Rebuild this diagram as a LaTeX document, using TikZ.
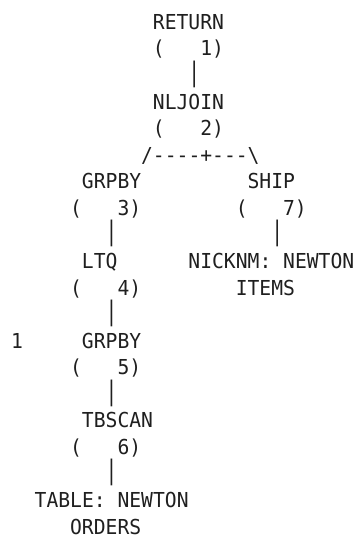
\documentclass[tikz,border=0pt]{standalone}
\usepackage{fontspec}
\setmonofont{DejaVu Sans Mono}[FakeStretch=0.955]
\begin{document}
\begin{tikzpicture}[x=11.83pt, y=-26.57pt,
  cell/.style={anchor=base west, inner sep=0pt, outer sep=0pt,
    font=\ttfamily\fontsize{20.6}{24}\selectfont, text=black!88},
  bar/.style={cell, yscale=1.3, yshift=0.8pt}]
\useasboundingbox (0pt,0pt) rectangle (356pt,-538pt);
\begin{scope}[shift={(11pt,-29.3pt)}]
  % operator 1
  \node[cell] (ret)   at (12,0)  {RETURN};
  \node[cell] (retn)  at (12,1)  {(~~~1)};
  \node[bar]  (b1)    at (15,2)  {|};
  % operator 2
  \node[cell] (nlj)   at (12,3)  {NLJOIN};
  \node[cell] (nljn)  at (12,4)  {(~~~2)};
  \node[cell] (fork)  at (11,5)  {/----+---\textbackslash};
  % outer branch
  \node[cell] (grp)   at (6,6)   {GRPBY};
  \node[cell] (grpn)  at (5,7)   {(~~~3)};
  \node[bar]  (b3)    at (8,8)   {|};
  \node[cell] (ltq)   at (6,9)   {LTQ};
  \node[cell] (ltqn)  at (5,10)  {(~~~4)};
  \node[bar]  (b4)    at (8,11)  {|};
  \node[cell] (mark)  at (0,12)  {1};
  \node[cell] (grpb)  at (6,12)  {GRPBY};
  \node[cell] (grpbn) at (5,13)  {(~~~5)};
  \node[bar]  (b5)    at (8,14)  {|};
  \node[cell] (scan)  at (6,15)  {TBSCAN};
  \node[cell] (scann) at (5,16)  {(~~~6)};
  \node[bar]  (b6)    at (8,17)  {|};
  \node[cell] (tab)   at (2,18)  {TABLE:~NEWTON};
  \node[cell] (ord)   at (5,19)  {ORDERS};
  % inner branch
  \node[cell] (ship)  at (20,6)  {SHIP};
  \node[cell] (shipn) at (19,7)  {(~~~7)};
  \node[bar]  (b7)    at (22,8)  {|};
  \node[cell] (nick)  at (15,9)  {NICKNM:~NEWTON};
  \node[cell] (items) at (19,10) {ITEMS};
\end{scope}
\end{tikzpicture}
\end{document}
